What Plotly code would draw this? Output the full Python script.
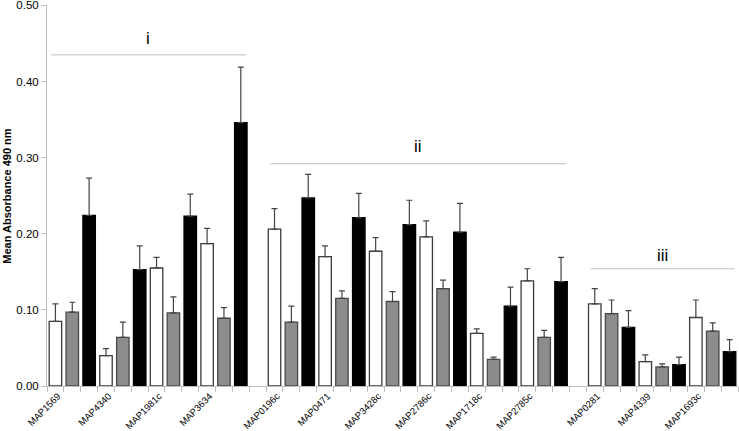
import plotly.graph_objects as go

# ---- data ----
groups = ["i", "ii", "iii"]
group_proteins = [
    ["MAP1569", "MAP4340", "MAP1981c", "MAP3634"],
    ["MAP0196c", "MAP0471", "MAP3428c", "MAP2786c", "MAP1718c", "MAP2785c"],
    ["MAP0281", "MAP4339", "MAP1693c"],
]
group_line_y = [0.435, 0.292, 0.154]
group_label_y = [0.456, 0.314, 0.172]

series_names = ["White", "Gray", "Black"]
# per protein values (white, gray, black), in protein order
white_vals = [0.085, 0.040, 0.155, 0.187, 0.206, 0.170, 0.177, 0.196, 0.069, 0.138, 0.108, 0.032, 0.090]
white_errs = [0.023, 0.009, 0.014, 0.020, 0.027, 0.014, 0.018, 0.021, 0.006, 0.016, 0.020, 0.009, 0.023]
gray_vals = [0.097, 0.064, 0.096, 0.089, 0.084, 0.115, 0.111, 0.128, 0.035, 0.064, 0.095, 0.025, 0.072]
gray_errs = [0.013, 0.020, 0.021, 0.014, 0.021, 0.010, 0.013, 0.011, 0.003, 0.009, 0.018, 0.004, 0.011]
black_vals = [0.224, 0.153, 0.223, 0.346, 0.247, 0.221, 0.212, 0.202, 0.105, 0.137, 0.077, 0.028, 0.045]
black_errs = [0.049, 0.031, 0.029, 0.073, 0.031, 0.032, 0.032, 0.038, 0.025, 0.032, 0.022, 0.010, 0.016]

y_ticks = [0.0, 0.1, 0.2, 0.3, 0.4, 0.5]
y_title = "Mean Absorbance 490 nm"

# ---- layout of slots (3 bars per protein, one empty slot between groups) ----
fills = ["#ffffff", "#8c8c8c", "#000000"]
lines = ["#3a3a3a", "#4a4a4a", "#000000"]
vals = [white_vals, gray_vals, black_vals]
errs = [white_errs, gray_errs, black_errs]

xs = [[], [], []]
protein_pos = []
protein_names = []
group_ranges = []
slot = 0
for g, prots in enumerate(group_proteins):
    start = slot
    for p in prots:
        protein_pos.append(slot)
        protein_names.append(p)
        for s in range(3):
            xs[s].append(slot)
            slot += 1
    group_ranges.append((start, slot - 1))
    slot += 1  # gap
n_slots = slot - 1

fig = go.Figure()
for s in range(3):
    fig.add_trace(go.Bar(
        x=xs[s], y=vals[s], name=series_names[s],
        marker=dict(color=fills[s], line=dict(color=lines[s], width=1.3)),
        error_y=dict(type="data", array=errs[s], symmetric=False,
                     arrayminus=[0] * len(errs[s]),
                     color="#444444", thickness=1.2, width=3),
        width=0.74,
    ))

for g, (a, b) in enumerate(group_ranges):
    fig.add_shape(type="line", xref="x", yref="y",
                  x0=a - 0.25, x1=b + 0.3, y0=group_line_y[g], y1=group_line_y[g],
                  line=dict(color="#bfbfbf", width=1))
    fig.add_annotation(x=(a + b) / 2, y=group_label_y[g], text=groups[g],
                       showarrow=False, font=dict(size=17, color="#000000",
                                                  family="Liberation Sans, Arial, sans-serif"))

fig.add_annotation(xref="paper", yref="paper", x=-0.059, y=0.5, xanchor="center",
                   yanchor="middle", textangle=-90, showarrow=False,
                   text=f"<b>{y_title}</b>", font=dict(size=11, color="#000000"))

fig.update_layout(
    width=739, height=431,
    margin=dict(l=47, r=1, t=5, b=45),
    plot_bgcolor="white", paper_bgcolor="white",
    showlegend=False, barmode="overlay",
    font=dict(family="Liberation Sans, Arial, sans-serif", color="#000000"),
    xaxis=dict(
        range=[-0.5, n_slots - 0.5],
        automargin=False,
        tickmode="array",
        tickvals=[p + 0.15 for p in protein_pos],
        ticktext=protein_names,
        tickangle=-45,
        tickfont=dict(size=9.5),
        ticks="", ticklen=0,
        showline=True, linecolor="#bfbfbf", linewidth=1,
        showgrid=False, zeroline=False,
        minor=dict(tickmode="linear", tick0=-0.5, dtick=1, ticks="outside",
                   ticklen=5, tickcolor="#bfbfbf", tickwidth=1, showgrid=False),
    ),
    yaxis=dict(
        range=[0, 0.5005],
        automargin=False,
        tickmode="array",
        tickvals=y_ticks,
        ticktext=[f"{v:.2f}" for v in y_ticks],
        tickfont=dict(size=11.5),
        ticklabeloverflow="allow",
        ticks="outside", ticklen=5, tickcolor="#bfbfbf",
        showline=True, linecolor="#bfbfbf", linewidth=1,
        showgrid=False, zeroline=False,
    ),
)

fig.write_html("out.html", config={"displayModeBar": False},
               post_script="document.body.style.margin='0';document.body.style.overflow='hidden';")
